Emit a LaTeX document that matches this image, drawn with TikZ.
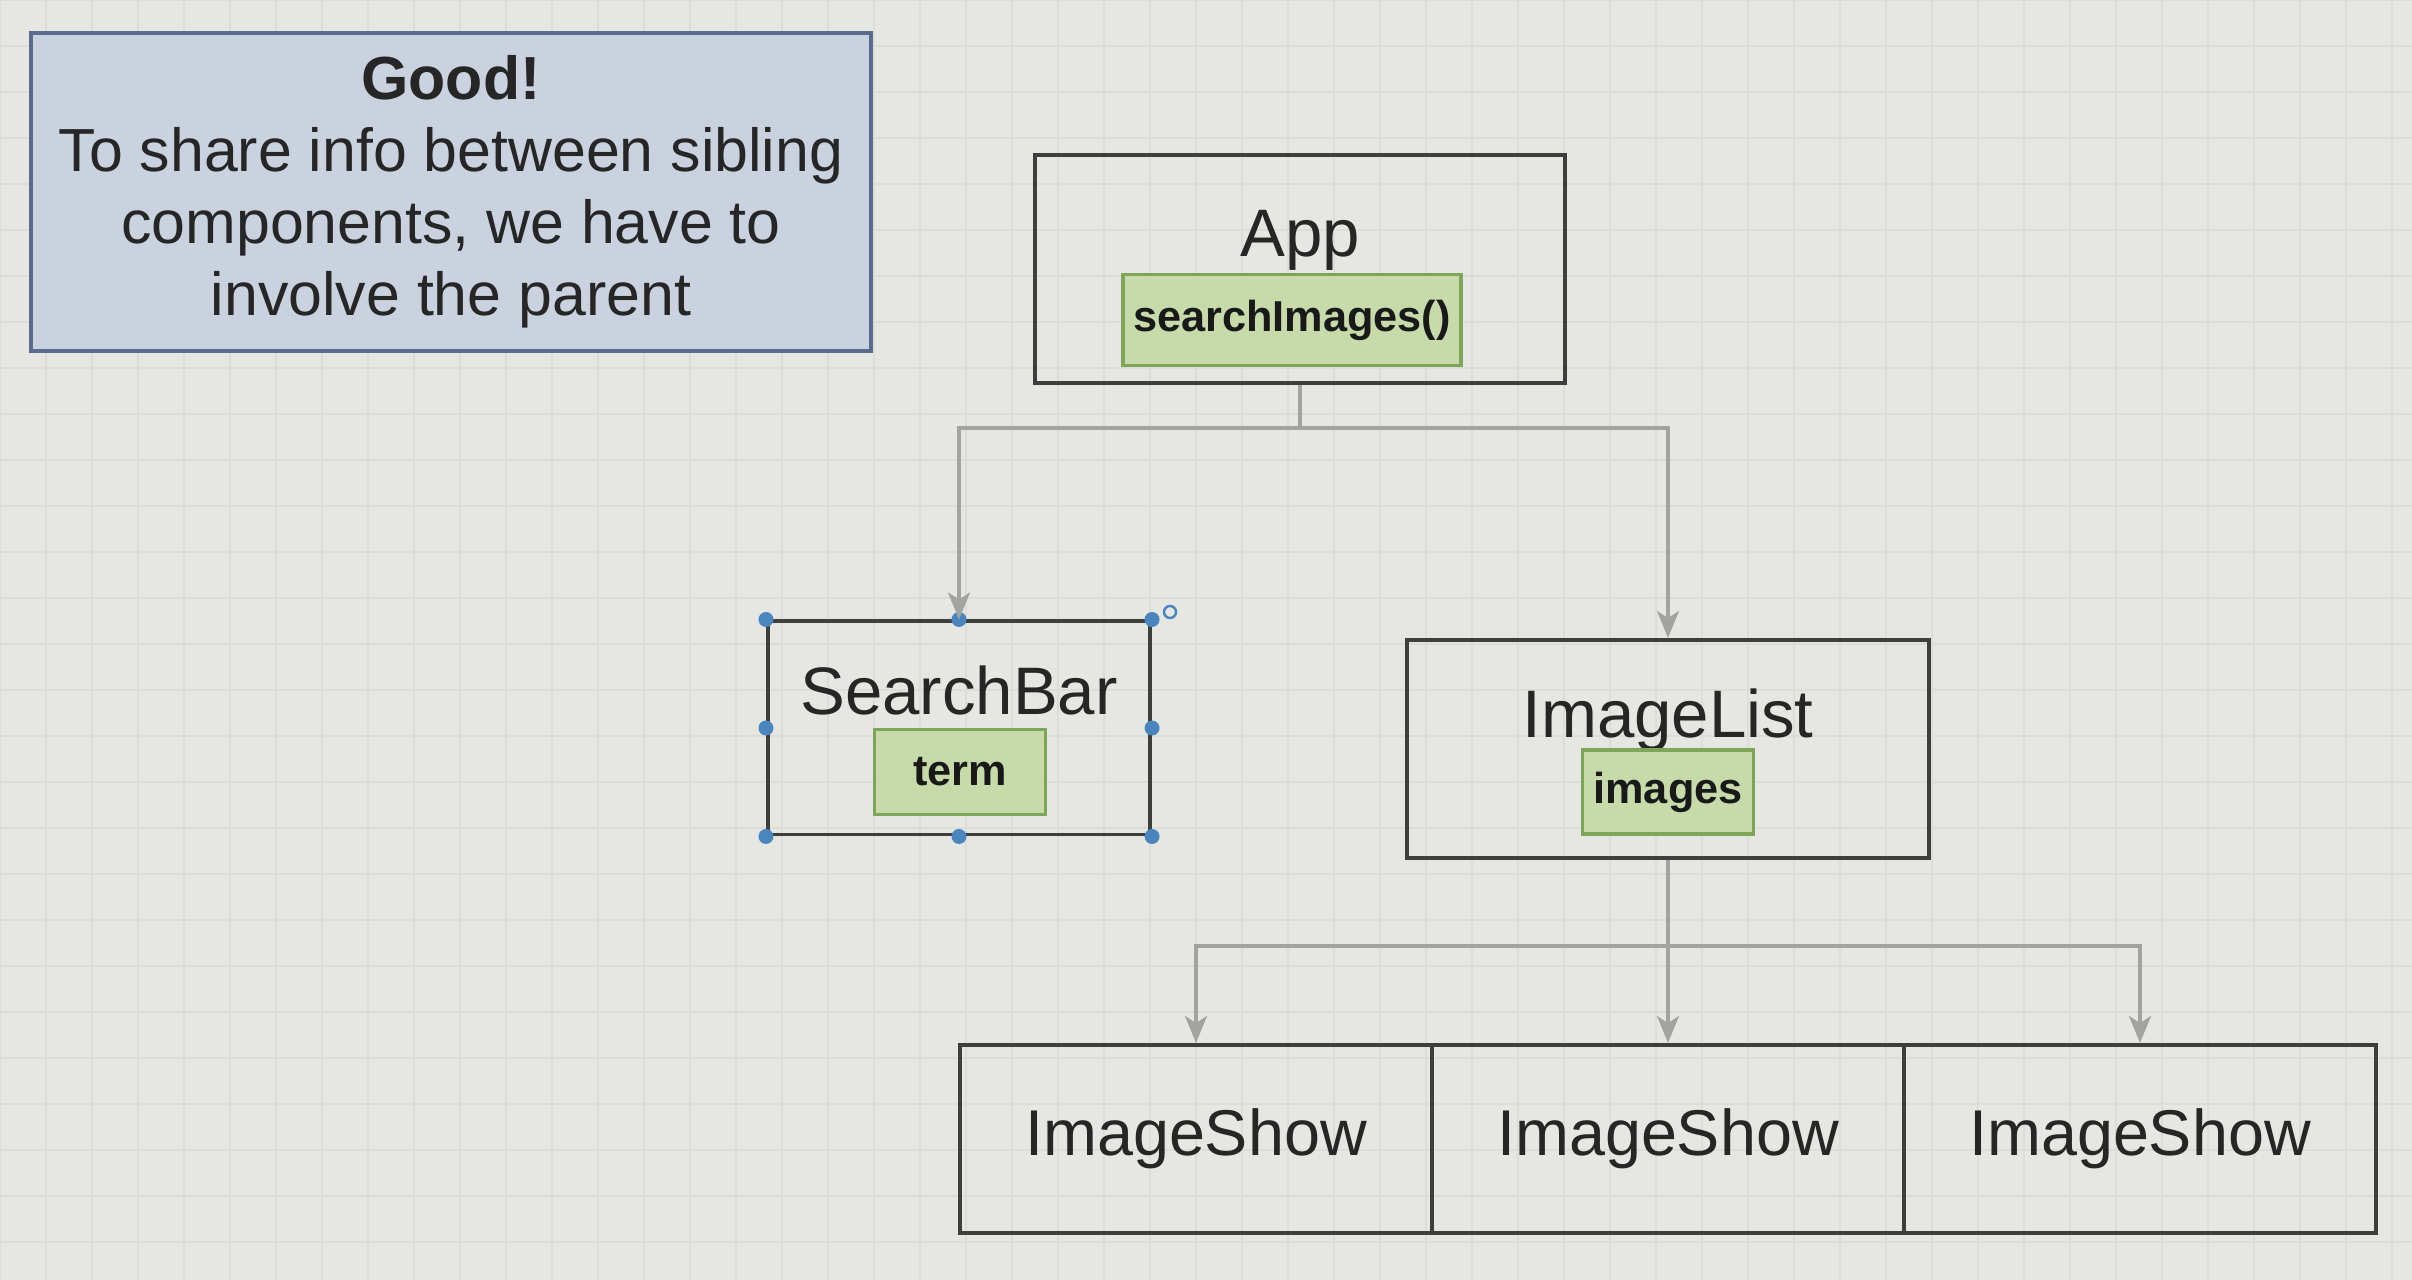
\documentclass[tikz,border=0pt]{standalone}
\usepackage{fontspec}
\setmainfont{Liberation Sans}
\usetikzlibrary{arrows.meta}
\definecolor{bgc}{HTML}{E6E6E2}
\definecolor{gridc}{HTML}{DCDCD8}
\definecolor{notefill}{HTML}{C9D2DE}
\definecolor{notedraw}{HTML}{5A6B8E}
\definecolor{greenfill}{HTML}{C6DAAA}
\definecolor{greendraw}{HTML}{7DA65A}
\definecolor{boxdraw}{HTML}{3E3E3E}
\definecolor{conn}{HTML}{A3A3A1}
\definecolor{handle}{HTML}{4A86BE}
\begin{document}
\begin{tikzpicture}[x=0.01cm,y=-0.01cm,
  compbox/.style={draw=boxdraw,line width=1.1pt,inner sep=0pt},
  ttl/.style={font=\fontsize{19.1}{22}\selectfont,text=black!85},
  showlbl/.style={font=\fontsize{18.4}{22}\selectfont,text=black!85},
  statebox/.style={draw=greendraw,fill=greenfill,line width=1pt,inner sep=0pt,
    font=\bfseries\fontsize{12.3}{14}\selectfont,text=black!90},
  notebox/.style={draw=notedraw,fill=notefill,line width=1.1pt,inner sep=0pt,
    align=center,font=\fontsize{17.3}{20.5}\selectfont,text=black!85},
  connector/.style={draw=conn,line width=0.9pt,
    -{Stealth[width=0.22cm,length=0.27cm,inset=0.07cm]}},
  connline/.style={draw=conn,line width=0.9pt},
  hdl/.style={circle,fill=handle,inner sep=0pt,minimum size=0.15cm}]
\fill[bgc] (0,0) rectangle (2412,1280);
\useasboundingbox (0,0) rectangle (2412,1280);
\foreach \gx in {0,46,...,2412} \draw[gridc,line width=0.35pt] (\gx,0) -- (\gx,1280);
\foreach \gy in {0,46,...,1280} \draw[gridc,line width=0.35pt] (0,\gy) -- (2412,\gy);

% note
\node[notebox,minimum width=8.4cm,minimum height=3.17cm] (note) at (451,192)
  {\textbf{Good!}\\To share info between sibling\\components, we have to\\involve the parent};

% App
\node[compbox,minimum width=5.29cm,minimum height=2.28cm] (app) at (1300,269) {};
\node[ttl,anchor=base] (apptitle) at (1300,257) {App};
\node[statebox,minimum width=3.38cm,minimum height=0.91cm] (appstate) at (1292,320) {searchImages()};

% SearchBar
\node[compbox,minimum width=3.82cm,minimum height=2.13cm] (sb) at (959,728) {};
\node[ttl,anchor=base] (sbtitle) at (959,715) {SearchBar};
\node[statebox,minimum width=1.71cm,minimum height=0.85cm] (sbstate) at (960,772) {term};

% selection handles on SearchBar
\foreach \a [count=\i] in {north west,north,north east,east,south east,south,south west,west}
  \node[hdl] (h\i) at (sb.\a) {};
\node[circle,draw=handle,line width=0.7pt,inner sep=0pt,minimum size=0.12cm] (rot) at (1170,612) {};

% ImageList
\node[compbox,minimum width=5.21cm,minimum height=2.18cm] (il) at (1668,749) {};
\node[ttl,anchor=base] (iltitle) at (1668,738) {ImageList};
\node[statebox,minimum width=1.71cm,minimum height=0.84cm] (ilstate) at (1668,792) {images};

% ImageShow row
\node[compbox,minimum width=4.72cm,minimum height=1.88cm] (is1) at (1196,1139) {};
\node[compbox,minimum width=4.72cm,minimum height=1.88cm] (is2) at (1668,1139) {};
\node[compbox,minimum width=4.72cm,minimum height=1.88cm] (is3) at (2140,1139) {};
\node[showlbl] (is1t) at (1196,1139) {ImageShow};
\node[showlbl] (is2t) at (1668,1139) {ImageShow};
\node[showlbl] (is3t) at (2140,1139) {ImageShow};

% connectors
\coordinate (j1) at (1300,428);
\coordinate (j2) at (1668,946);
\draw[connline] (app.south) -- (j1);
\draw[connector] (j1) -| (sb.north);
\draw[connector] (j1) -| (il.north);
\draw[connline] (il.south) -- (j2);
\draw[connector] (j2) -| (is1.north);
\draw[connector] (j2) -- (is2.north);
\draw[connector] (j2) -| (is3.north);
\end{tikzpicture}
\end{document}
